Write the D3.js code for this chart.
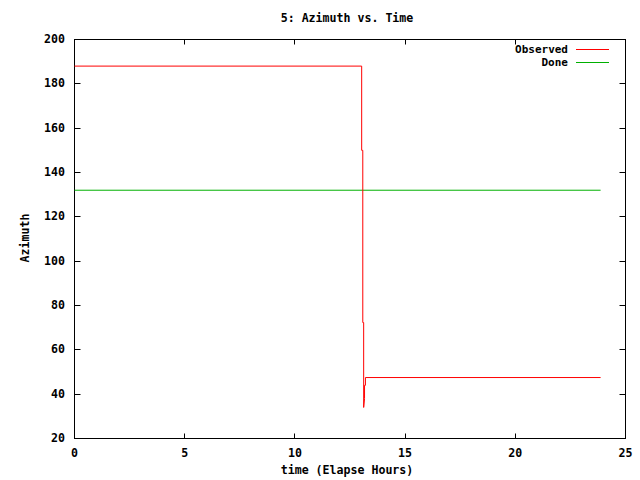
<!DOCTYPE html>
<html><head><meta charset="utf-8">
<script src="https://cdn.jsdelivr.net/npm/d3@7"></script>
<style>body{margin:0;background:#fff}svg{display:block}text{font-family:"DejaVu Sans Mono",monospace;font-weight:bold;font-size:11.6px;fill:#000}</style>
</head><body>
<script>
const title = "5: Azimuth vs. Time";
const xLabel = "time (Elapse Hours)";
const yLabel = "Azimuth";
const xTicks = [0, 5, 10, 15, 20, 25];
const yTicks = [20, 40, 60, 80, 100, 120, 140, 160, 180, 200];
const seriesNames = ["Observed", "Done"];
const seriesColors = ["#ff0000", "#00b000"];
const obsTime = [0, 13.03, 13.03, 13.08, 13.08, 13.12, 13.12, 13.16, 13.16, 13.2, 13.2, 23.87];
const obsAz   = [188, 188, 150, 150, 72.3, 72.3, 34, 38, 44, 44, 47.5, 47.5];
const doneTime = [0, 23.87];
const doneAz   = [132, 132];

const W = 640, H = 480;
const m = {l: 74, r: 15, t: 39, b: 42};
const svg = d3.select("body").append("svg").attr("width", W).attr("height", H);
const x = d3.scaleLinear().domain([0, 25]).range([m.l, W - m.r]);
const y = d3.scaleLinear().domain([20, 200]).range([H - m.b, m.t]);
const g = svg.append("g").attr("transform", "translate(0.5,0.5)");

// border
g.append("rect").attr("x", x(0)).attr("y", y(200)).attr("width", x(25) - x(0)).attr("height", y(20) - y(200))
  .attr("fill", "none").attr("stroke", "#000");

// ticks (inward, mirrored)
const tk = g.append("g").attr("stroke", "#000");
yTicks.forEach(v => {
  tk.append("line").attr("x1", x(0)).attr("x2", x(0) + 6).attr("y1", Math.round(y(v))).attr("y2", Math.round(y(v)));
  tk.append("line").attr("x1", x(25)).attr("x2", x(25) - 6).attr("y1", Math.round(y(v))).attr("y2", Math.round(y(v)));
});
xTicks.forEach(v => {
  tk.append("line").attr("y1", y(20)).attr("y2", y(20) - 5).attr("x1", Math.round(x(v))).attr("x2", Math.round(x(v)));
  tk.append("line").attr("y1", y(200)).attr("y2", y(200) + 5).attr("x1", Math.round(x(v))).attr("x2", Math.round(x(v)));
});

// tick labels
svg.append("g").selectAll("text").data(yTicks).join("text")
  .attr("x", 65).attr("y", d => y(d) + 4).attr("text-anchor", "end").text(d => d);
svg.append("g").selectAll("text").data(xTicks).join("text")
  .attr("x", d => x(d) + 0.5).attr("y", 457).attr("text-anchor", "middle").text(d => d);

// titles
svg.append("text").attr("x", 347).attr("y", 22).attr("text-anchor", "middle").text(title);
svg.append("text").attr("x", 347).attr("y", 474).attr("text-anchor", "middle").text(xLabel);
svg.append("text").attr("transform", "translate(29,238) rotate(-90)").attr("text-anchor", "middle").text(yLabel);

// lines
const line = d3.line().x(d => x(d[0])).y(d => y(d[1]));
g.append("path").datum(doneTime.map((t, i) => [t, doneAz[i]])).attr("d", line)
  .attr("fill", "none").attr("stroke", seriesColors[1]).attr("stroke-width", 1);
g.append("path").datum(obsTime.map((t, i) => [t, obsAz[i]])).attr("d", line)
  .attr("fill", "none").attr("stroke", seriesColors[0]).attr("stroke-width", 1);

// legend
const lg = svg.append("g");
seriesNames.forEach((n, i) => {
  const yy = 48.5 + i * 13;
  lg.append("text").attr("x", 568).attr("y", yy + 4).attr("text-anchor", "end").style("font-size", "11px").text(n);
  lg.append("line").attr("x1", 576).attr("x2", 609).attr("y1", Math.round(yy) + 0.5).attr("y2", Math.round(yy) + 0.5)
    .attr("stroke", seriesColors[i]);
});
</script>
</body></html>
